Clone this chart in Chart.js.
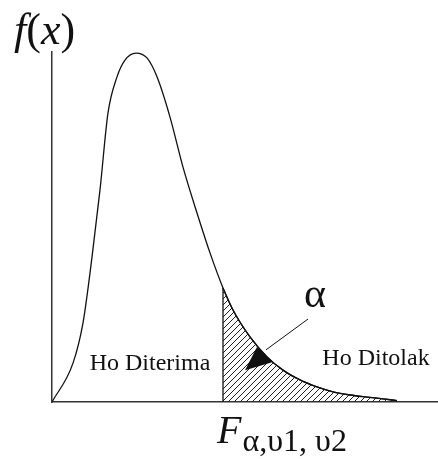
<!DOCTYPE html>
<html>
<head>
<meta charset="utf-8">
<script src="https://cdn.jsdelivr.net/npm/chart.js@4"></script>
<style>
  body { margin: 0; background: #fff; }
</style>
</head>
<body>
<canvas id="f-chart" width="438" height="459"></canvas>
<script>
// density curve (x in arbitrary F units, y normalised to peak)
let curveX = [0, 0.21, 0.31, 0.40, 0.48, 0.56, 0.65, 0.73, 0.84, 0.95, 1.05, 1.18, 1.31, 1.45, 1.58, 1.71,
    1.81, 1.98, 2.15, 2.31, 2.48, 2.65, 2.81, 2.98, 3.15, 3.31, 3.45];
let curveY = [0, 0.111, 0.226, 0.414, 0.606, 0.826, 0.929, 0.977, 0.997, 0.983, 0.929, 0.814, 0.671, 0.540, 0.426, 0.326,
    0.263, 0.186, 0.129, 0.091, 0.063, 0.043, 0.029, 0.020, 0.014, 0.009, 0.004];
let fCritical = 1.71;
let xMax = 3.86;
let yMax = 1;

let areaLabels = ['Ho Diterima', 'Ho Ditolak'];
let alphaLabel = '\u03b1';
let critSub = '\u03b1,\u03c51, \u03c52';

let curvePoints = curveX.map((x, i) => ({x: x, y: curveY[i]}));
let tailPoints = curvePoints.filter(p => p.x >= fCritical);
let critIdx = curveX.indexOf(fCritical);

// hatch pattern for the rejection area
function hatch() {
    let c = document.createElement('canvas');
    c.width = 6;
    c.height = 6;
    let g = c.getContext('2d');
    g.strokeStyle = '#222';
    g.lineWidth = 1;
    g.beginPath();
    g.moveTo(0, 6); g.lineTo(6, 0);
    g.moveTo(-1, 1); g.lineTo(1, -1);
    g.moveTo(5, 7); g.lineTo(7, 5);
    g.stroke();
    return g.createPattern(c, 'repeat');
}

const serif = '"Liberation Serif", "Times New Roman", serif';

let textPlugin = {
    id: 'texts',
    afterDraw(chart) {
        let ctx = chart.ctx;
        let xs = chart.scales.x, ys = chart.scales.y;
        ctx.save();
        ctx.fillStyle = '#111';
        ctx.textBaseline = 'alphabetic';

        // f(x)
        let px = 14;
        let parts = [['italic', 'f'], ['normal', '('], ['italic', 'x'], ['normal', ')']];
        parts.forEach(p => {
            ctx.font = p[0] + ' 44px ' + serif;
            ctx.fillText(p[1], px, 44);
            px += ctx.measureText(p[1]).width;
        });

        // area labels
        ctx.font = '24px ' + serif;
        ctx.textAlign = 'center';
        ctx.fillText(areaLabels[0], xs.getPixelForValue(0.98), ys.getPixelForValue(0.092));
        ctx.fillText(areaLabels[1], xs.getPixelForValue(3.24), ys.getPixelForValue(0.105));

        // alpha with arrow
        ctx.font = '42px ' + serif;
        ctx.fillText(alphaLabel, xs.getPixelForValue(2.63), ys.getPixelForValue(0.271));
        ctx.strokeStyle = '#111';
        ctx.lineWidth = 1;
        ctx.beginPath();
        ctx.moveTo(xs.getPixelForValue(2.56), ys.getPixelForValue(0.237));
        ctx.lineTo(xs.getPixelForValue(2.14), ys.getPixelForValue(0.149));
        ctx.stroke();
        ctx.beginPath();
        ctx.moveTo(xs.getPixelForValue(2.05), ys.getPixelForValue(0.157));
        ctx.lineTo(xs.getPixelForValue(2.21), ys.getPixelForValue(0.114));
        ctx.lineTo(xs.getPixelForValue(1.93), ys.getPixelForValue(0.091));
        ctx.closePath();
        ctx.fill();

        // F critical label
        ctx.textAlign = 'left';
        let fx = xs.getPixelForValue(fCritical) - 6;
        ctx.font = 'italic 40px ' + serif;
        ctx.fillText('F', fx, 443);
        fx += ctx.measureText('F').width + 1;
        ctx.font = '32px ' + serif;
        ctx.fillText(critSub, fx, 451);
        ctx.restore();
    }
};

let fChart = new Chart(document.getElementById('f-chart'), {
    type: 'line',
    data: {
        datasets: [{
            data: tailPoints,
            borderColor: '#111',
            borderWidth: 1.3,
            backgroundColor: hatch(),
            fill: 'origin',
            pointRadius: 0,
            cubicInterpolationMode: 'monotone'
        }, {
            data: curvePoints,
            borderColor: '#111',
            borderWidth: 1.3,
            fill: false,
            pointRadius: 0,
            cubicInterpolationMode: 'monotone'
        }, {
            data: [{x: fCritical, y: 0}, {x: fCritical, y: curveY[critIdx]}],
            borderColor: '#111',
            borderWidth: 1.3,
            fill: false,
            pointRadius: 0
        }]
    },
    options: {
        responsive: false,
        animation: false,
        devicePixelRatio: 1,
        layout: {padding: {left: 52, top: 52, right: 0, bottom: 57}},
        plugins: {legend: {display: false}, tooltip: {enabled: false}},
        scales: {
            x: {
                type: 'linear', min: 0, max: xMax,
                grid: {display: false, drawTicks: false},
                ticks: {display: false, padding: 0},
                border: {display: true, color: '#333', width: 1.5}
            },
            y: {
                min: 0, max: yMax,
                grid: {display: false, drawTicks: false},
                ticks: {display: false, padding: 0},
                border: {display: true, color: '#333', width: 1.5}
            }
        }
    },
    plugins: [textPlugin]
});
</script>
</body>
</html>
